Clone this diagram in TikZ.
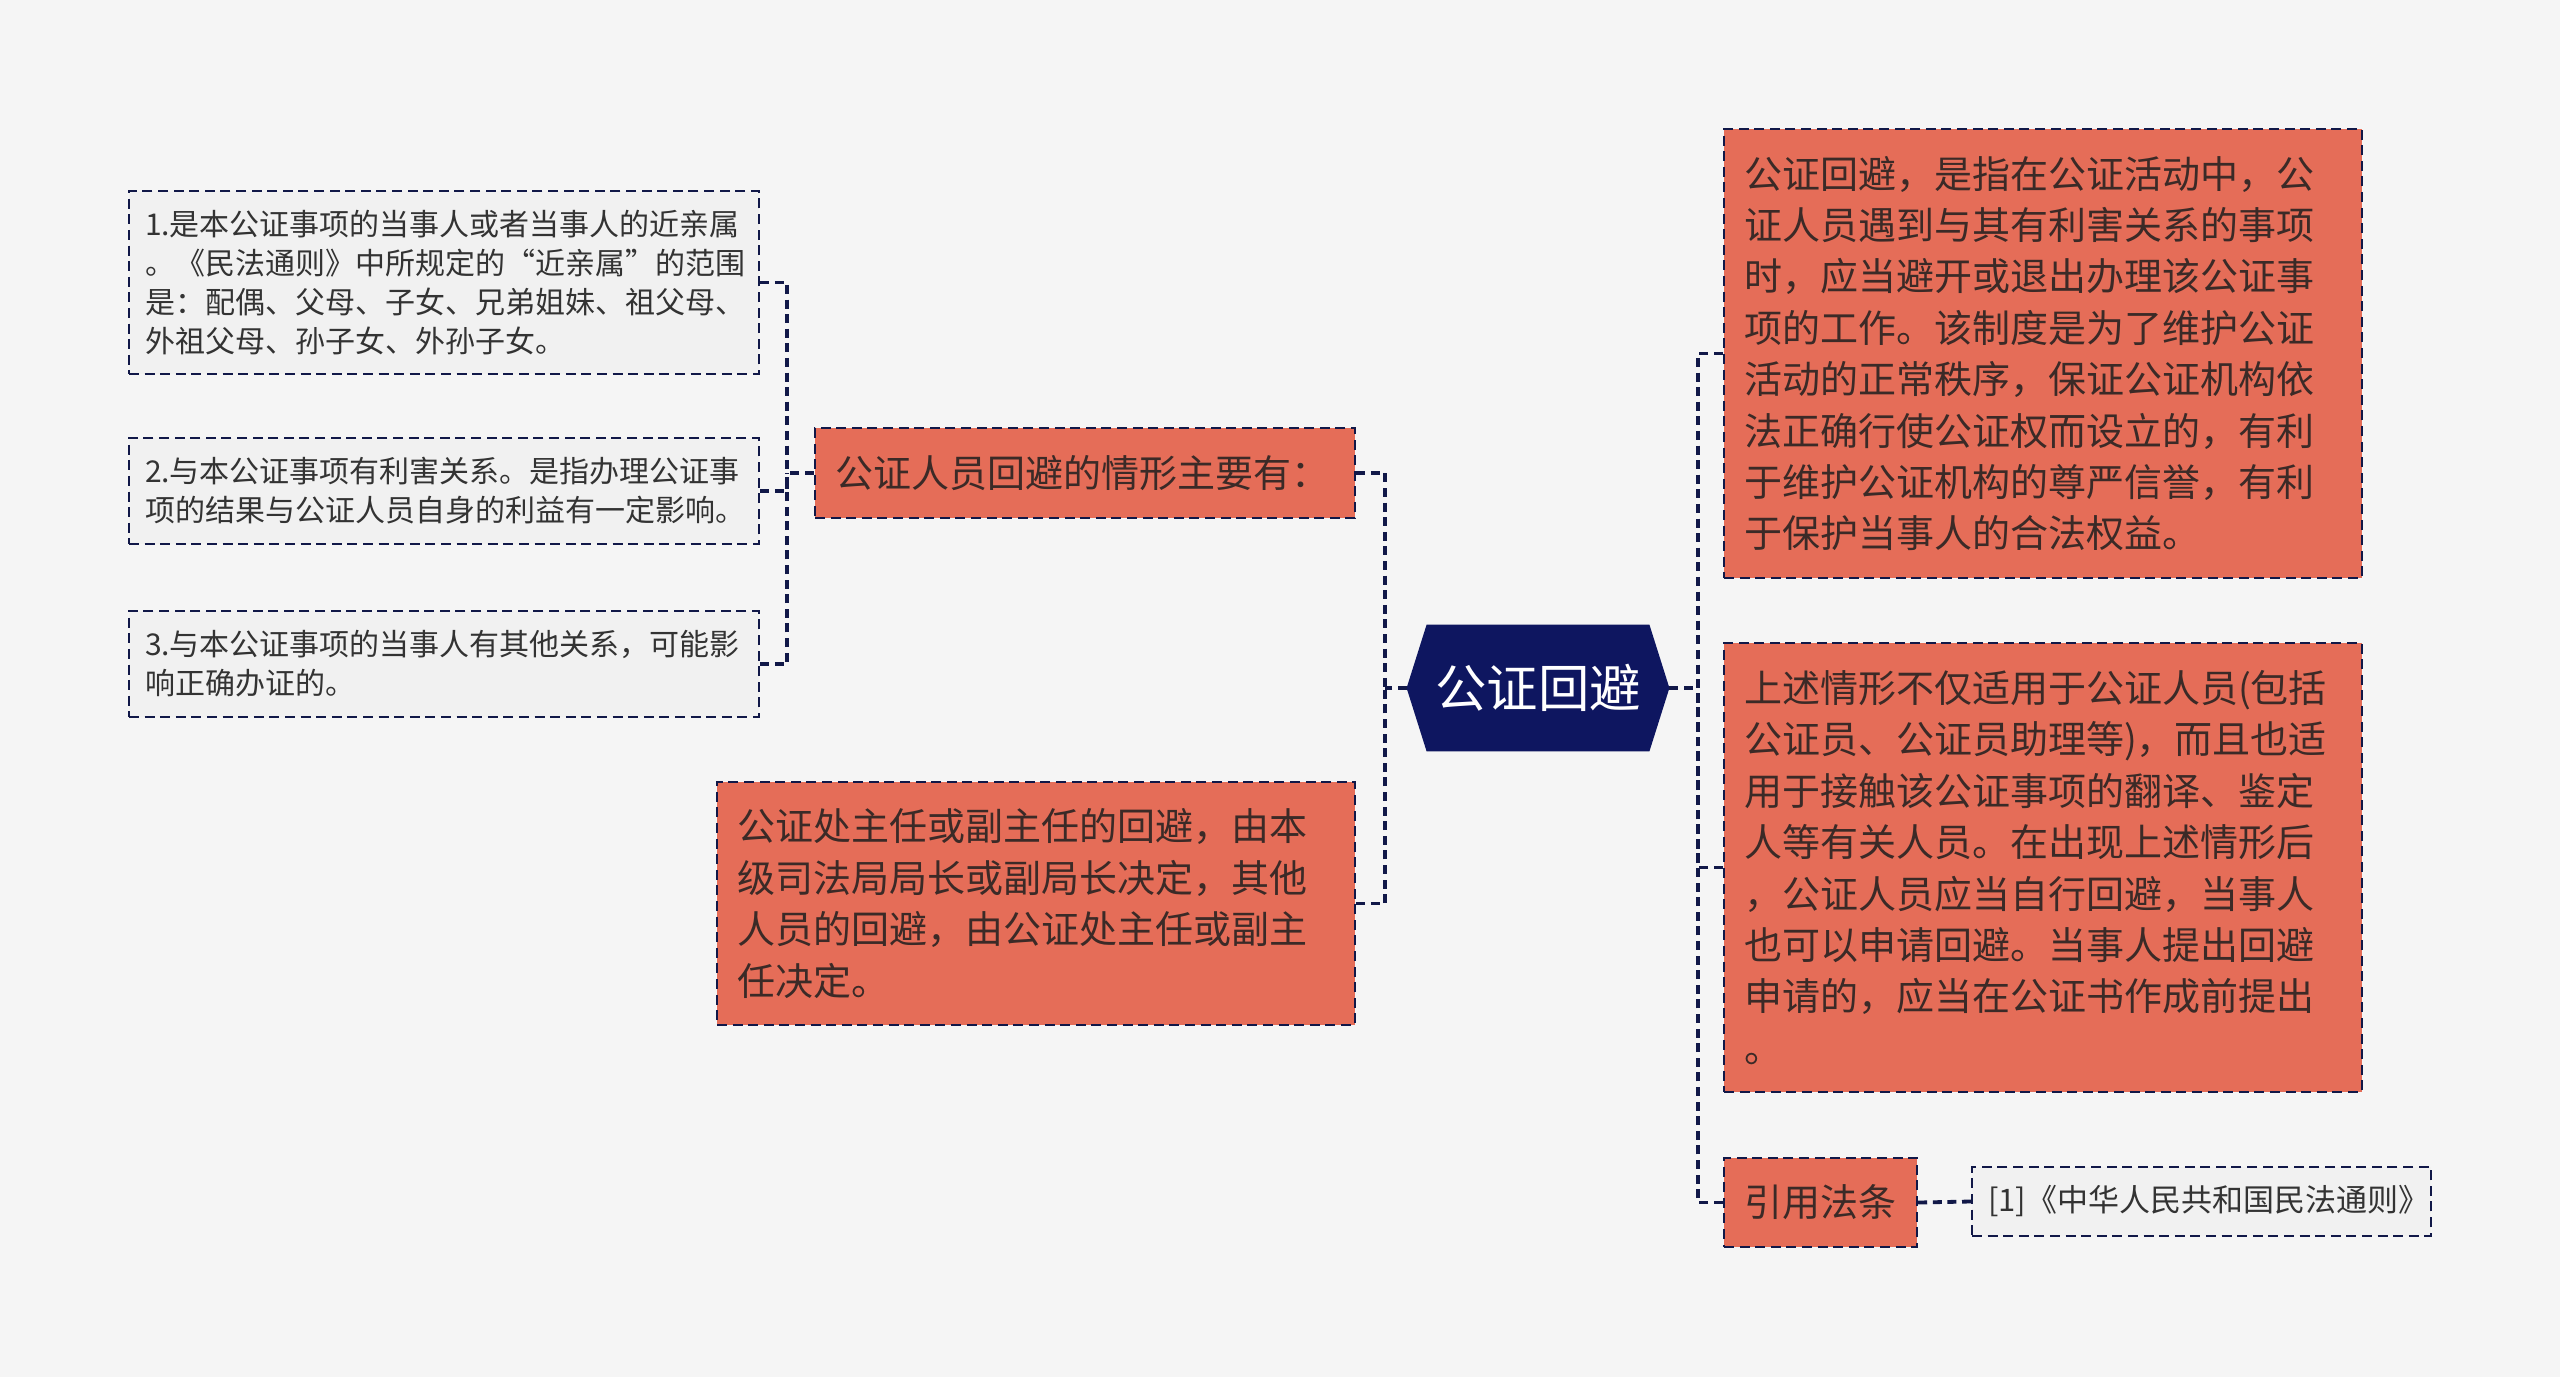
\documentclass[tikz,border=0pt]{standalone}
\usepackage{fontspec}
\setmainfont{Noto Sans CJK SC}
\usepackage{tikz}
\usetikzlibrary{backgrounds}
\definecolor{colorFond}{HTML}{F5F5F5}
\definecolor{colorBrique}{HTML}{E56D58}
\definecolor{colorNuit}{HTML}{0E1660}
\definecolor{colorTrait}{HTML}{111848}
\definecolor{colorGris}{HTML}{F1F1F1}
\definecolor{colorTexte}{HTML}{3B2A27}
\definecolor{colorTexteGris}{HTML}{333333}

\tikzset{
  lien/.style={draw=colorTrait, line width=1.9pt, dash pattern=on 4.5pt off 2.8pt},
  boite/.style={draw=colorTrait, line width=1.2pt, dash pattern=on 5pt off 2.8pt,
    align=left, inner ysep=0pt, anchor=center},
  brique/.style={boite, fill=colorBrique, text=colorTexte, inner xsep=10pt,
    font=\fontsize{19pt}{25.7pt}\selectfont},
  grise/.style={boite, fill=colorGris, text=colorTexteGris, inner xsep=8pt,
    font=\fontsize{15pt}{19.5pt}\selectfont},
  centre/.style={text=white, inner sep=0pt, minimum width=131pt, minimum height=63pt,
    font=\fontsize{25.7pt}{30pt}\selectfont},
}

\begin{document}
\begin{tikzpicture}[x=0.5pt, y=-0.5pt]
  \useasboundingbox (0,0) rectangle (2560,1377);

  % Nœud central
  \node[centre] (hub) at (1538,688) {公证回避};

  % Branche gauche
  \node[brique, text width=250pt, minimum height=45pt] (situations) at (1085,473)
    {公证人员回避的情形主要有：};
  \node[brique, text width=299pt, minimum height=121.5pt] (directeurs) at (1036,903.5)
    {公证处主任或副主任的回避，由本\\级司法局局长或副局长决定，其他\\人员的回避，由公证处主任或副主\\任决定。};

  % Les trois cas
  \node[grise, text width=299pt, minimum height=91.5pt] (casUn) at (444,282.5)
    {1.是本公证事项的当事人或者当事人的近亲属\\。《民法通则》中所规定的“近亲属”的范围\\是：配偶、父母、子女、兄弟姐妹、祖父母、\\外祖父母、孙子女、外孙子女。};
  \node[grise, text width=299pt, minimum height=53pt] (casDeux) at (444,491)
    {2.与本公证事项有利害关系。是指办理公证事\\项的结果与公证人员自身的利益有一定影响。};
  \node[grise, text width=299pt, minimum height=53pt] (casTrois) at (444,664)
    {3.与本公证事项的当事人有其他关系，可能影\\响正确办证的。};

  % Branche droite
  \node[brique, text width=299pt, minimum height=224.5pt] (definition) at (2043,353.5)
    {公证回避，是指在公证活动中，公\\证人员遇到与其有利害关系的事项\\时，应当避开或退出办理该公证事\\项的工作。该制度是为了维护公证\\活动的正常秩序，保证公证机构依\\法正确行使公证权而设立的，有利\\于维护公证机构的尊严信誉，有利\\于保护当事人的合法权益。};
  \node[brique, text width=299pt, minimum height=224.5pt] (portee) at (2043,867.5)
    {上述情形不仅适用于公证人员(包括\\公证员、公证员助理等)，而且也适\\用于接触该公证事项的翻译、鉴定\\人等有关人员。在出现上述情形后\\，公证人员应当自行回避，当事人\\也可以申请回避。当事人提出回避\\申请的，应当在公证书作成前提出\\。};
  \node[brique, text width=76.5pt, minimum height=44.5pt] (loi) at (1820.5,1202.5) {引用法条};
  \node[grise, text width=213.5pt, minimum height=34.5pt, font=\fontsize{15.5pt}{19.5pt}\selectfont]
    (reference) at (2201.5,1201.5) {[1]《中华人民共和国民法通则》};

  % Points de jonction
  \coordinate (jGauche) at (1385,688);
  \coordinate (jDroite) at (1698,688);
  \coordinate (jCas) at (787,473);

  % Liens
  \draw[lien] (hub.west) -- (jGauche);
  \draw[lien] (situations.east) -| (jGauche);
  \draw[lien] (directeurs.east) -| (jGauche);
  \draw[lien] (situations.west) -- (jCas);
  \draw[lien] (casUn.east) -| (jCas);
  \draw[lien] (casDeux.east) -| (jCas);
  \draw[lien] (casTrois.east) -| (jCas);
  \draw[lien] (hub.east) -- (jDroite);
  \draw[lien] (definition.west) -| (jDroite);
  \draw[lien] (portee.west) -| (jDroite);
  \draw[lien] (loi.west) -| (jDroite);
  \draw[lien] (loi.east) -- (reference.west);

  % Fond et hexagone
  \begin{scope}[on background layer]
    \fill[colorFond] (0,0) rectangle (2560,1377);
    \fill[colorNuit] (hub.west) -- ([xshift=10pt]hub.north west) -- ([xshift=-10pt]hub.north east)
      -- (hub.east) -- ([xshift=-10pt]hub.south east) -- ([xshift=10pt]hub.south west) -- cycle;
  \end{scope}
\end{tikzpicture}
\end{document}
